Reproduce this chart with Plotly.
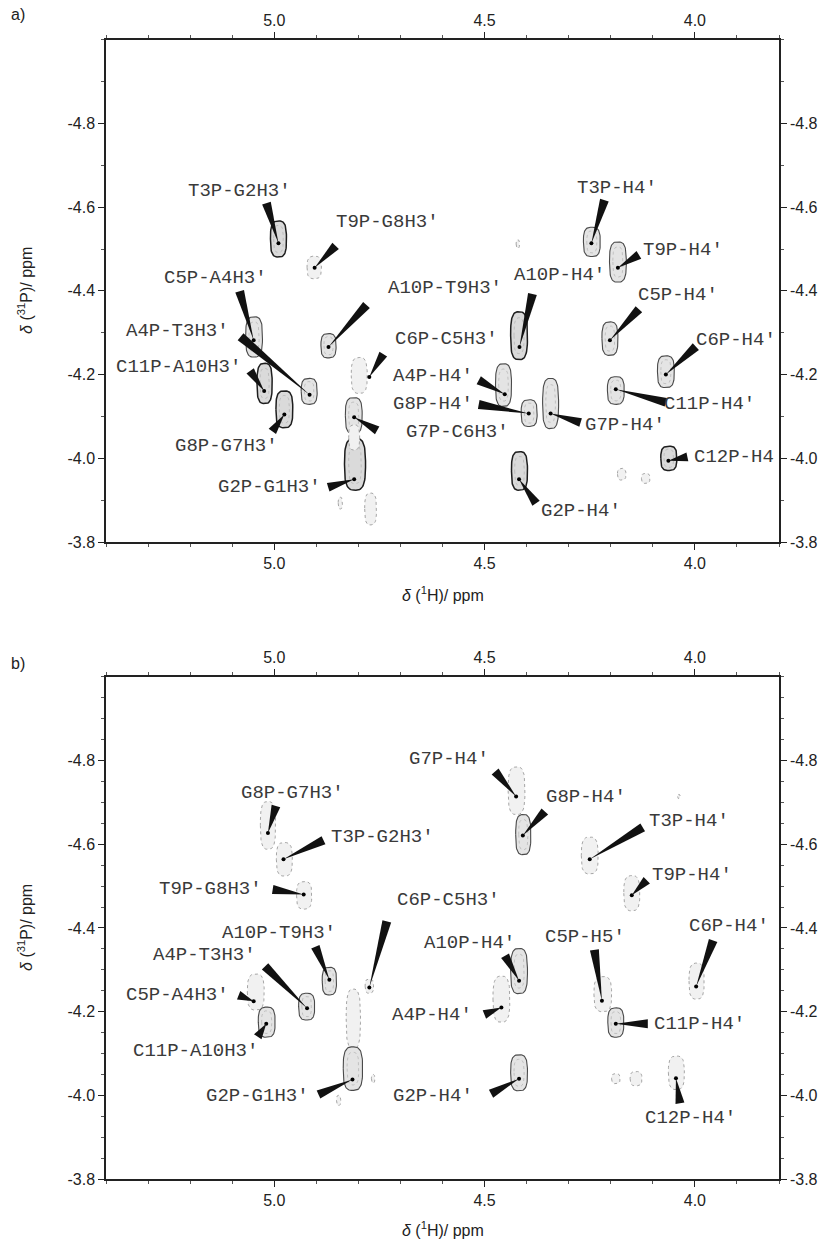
import math
import numpy as np
import plotly.graph_objects as go

# ---------------- data: panel a ----------------
A_LABELS = ["T3P-G2H3′", "T9P-G8H3′", "T3P-H4′", "T9P-H4′", "C5P-A4H3′", "A4P-T3H3′",
            "C11P-A10H3′", "G8P-G7H3′", "A10P-T9H3′", "C6P-C5H3′", "G7P-C6H3′", "G2P-G1H3′",
            "A10P-H4′", "C5P-H4′", "A4P-H4′", "G8P-H4′", "G7P-H4′", "C6P-H4′", "C11P-H4′",
            "C12P-H4", "G2P-H4′"]
A_H = [4.990, 4.904, 4.246, 4.183, 5.049, 4.916, 5.024, 4.976, 4.871, 4.774, 4.810, 4.810,
       4.417, 4.202, 4.452, 4.395, 4.343, 4.069, 4.188, 4.063, 4.418]
A_P = [-4.514, -4.455, -4.514, -4.455, -4.282, -4.152, -4.161, -4.105, -4.266, -4.194, -4.098, -3.950,
       -4.266, -4.282, -4.153, -4.107, -4.107, -4.200, -4.165, -3.994, -3.950]

# cross-peak contour envelopes (centre, half-extent in ppm)
A_BLOB_H = [4.990, 4.905, 4.245, 4.183, 5.048, 4.871, 5.023, 4.917, 4.976, 4.798, 4.811, 4.808, 4.771,
            4.843, 4.418, 4.202, 4.455, 4.394, 4.343, 4.188, 4.069, 4.062, 4.417, 4.174, 4.117, 4.421,
            4.810]
A_BLOB_P = [-4.524, -4.456, -4.517, -4.469, -4.290, -4.269, -4.179, -4.160, -4.117, -4.198, -4.102, -3.986,
            -3.879, -3.893, -4.293, -4.286, -4.175, -4.108, -4.131, -4.162, -4.207, -4.000, -3.970,
            -3.962, -3.952, -4.512, -4.050]
A_BLOB_DH = [0.019, 0.017, 0.020, 0.020, 0.020, 0.018, 0.018, 0.019, 0.020, 0.019, 0.020, 0.025, 0.014,
             0.005, 0.020, 0.019, 0.019, 0.019, 0.019, 0.020, 0.020, 0.019, 0.019, 0.010, 0.010, 0.004,
             0.013]
A_BLOB_DP = [0.043, 0.027, 0.035, 0.048, 0.048, 0.029, 0.048, 0.031, 0.044, 0.043, 0.043, 0.062, 0.038,
             0.014, 0.057, 0.040, 0.051, 0.032, 0.060, 0.033, 0.038, 0.029, 0.046, 0.014, 0.012, 0.010,
             0.030]
A_BLOB_TONE = ["dark", "faint", "normal", "normal", "normal", "normal", "dark", "normal", "dark", "faint",
               "normal", "dark", "faint", "faint", "dark", "normal", "normal", "normal", "normal", "normal",
               "normal", "dark", "dark", "faint", "faint", "faint", "faint"]

# ---------------- data: panel b ----------------
B_LABELS = ["G8P-G7H3′", "T3P-G2H3′", "T9P-G8H3′", "G7P-H4′", "G8P-H4′", "T3P-H4′", "T9P-H4′",
            "C6P-C5H3′", "A10P-T9H3′", "A4P-T3H3′", "C5P-A4H3′", "C11P-A10H3′", "G2P-G1H3′",
            "A10P-H4′", "C5P-H5′", "C6P-H4′", "A4P-H4′", "C11P-H4′", "G2P-H4′", "C12P-H4′"]
B_H = [5.015, 4.978, 4.930, 4.425, 4.409, 4.250, 4.150, 4.774, 4.869, 4.922, 5.049, 5.019, 4.814,
       4.418, 4.221, 3.997, 4.460, 4.188, 4.418, 4.045]
B_P = [-4.627, -4.564, -4.480, -4.714, -4.621, -4.564, -4.478, -4.258, -4.276, -4.208, -4.225, -4.171,
       -4.038, -4.274, -4.226, -4.260, -4.210, -4.171, -4.040, -4.041]

B_BLOB_H = [5.015, 4.976, 4.929, 4.424, 4.408, 4.250, 4.150, 4.869, 4.774, 4.923, 5.044, 5.018, 4.812,
            4.813, 4.418, 4.460, 4.219, 4.188, 3.996, 4.418, 4.044, 4.188, 4.140, 4.765, 4.847, 4.038]
B_BLOB_P = [-4.645, -4.564, -4.478, -4.728, -4.623, -4.573, -4.483, -4.273, -4.261, -4.212, -4.247, -4.175,
            -4.183, -4.064, -4.297, -4.230, -4.242, -4.174, -4.273, -4.054, -4.054, -4.040, -4.040,
            -4.040, -3.988, -4.714]
B_BLOB_DH = [0.018, 0.019, 0.018, 0.020, 0.018, 0.020, 0.019, 0.017, 0.010, 0.019, 0.020, 0.020, 0.017,
             0.023, 0.020, 0.020, 0.021, 0.019, 0.018, 0.020, 0.019, 0.010, 0.014, 0.004, 0.005, 0.003]
B_BLOB_DP = [0.057, 0.040, 0.033, 0.057, 0.048, 0.044, 0.042, 0.033, 0.017, 0.032, 0.043, 0.036, 0.071,
             0.052, 0.054, 0.055, 0.042, 0.035, 0.043, 0.043, 0.040, 0.012, 0.017, 0.010, 0.012, 0.005]
B_BLOB_TONE = ["faint", "faint", "faint", "faint", "normal", "faint", "faint", "normal", "faint", "normal",
               "faint", "normal", "faint", "normal", "normal", "faint", "faint", "normal", "faint", "normal",
               "faint", "faint", "faint", "faint", "faint", "faint"]

X_TICKS = [5.0, 4.5, 4.0]
X_TICKTEXT = ["5.0", "4.5", "4.0"]
Y_TICKS = [-4.8, -4.6, -4.4, -4.2, -4.0, -3.8]
Y_TICKTEXT = ["-4.8", "-4.6", "-4.4", "-4.2", "-4.0", "-3.8"]
X_RANGE = [5.4, 3.8]
Y_RANGE = [-3.8, -5.0]

# ---------------- layout (label placement, pixels relative to peak) ----------------
A_TEXT_OFF = [(-39, -52), (73, -46), (26, -55), (65, -18), (-38, -62), (-132, -64), (-86, -24), (-58, 32),
              (116, -59), (77, -38), (103, 15), (-85, 8), (40, -72), (68, -45), (-72, -18), (-96, -10),
              (74, 11), (70, -35), (94, 15), (66, -4), (62, 32)]
A_WEDGE_OFF = [(-12, -40), (21, -22), (13, -43), (21, -13), (-14, -49), (-69, -58), (-14, -20), (-12, 17),
               (38, -42), (14, -23), (23, 13), (-26, 8), (13, -53), (29, -31), (-26, -14), (-50, -9),
               (30, 9), (30, -28), (50, 13), (19, -4), (17, 24)]
B_TEXT_OFF = [(25, -40), (99, -22), (-93, -5), (-67, -38), (63, -38), (99, -38), (60, -20), (79, -87),
              (-50, -47), (-103, -53), (-76, -6), (-71, 27), (-95, 17), (-50, -38), (-17, -64), (33, -61),
              (-69, 8), (84, 0), (-86, 17), (15, 40)]
B_WEDGE_OFF = [(8, -27), (40, -19), (-31, -5), (-21, -25), (22, -24), (53, -32), (15, -15), (17.5, -66),
               (-14, -33), (-42, -42), (-15, -6), (-8.5, 13), (-34, 15), (-14, -25), (-7.5, -51), (17, -46),
               (-17, 7), (32, 0), (-28, 15), (4, 25)]

W, H = 826, 1247
XDOM = [106 / W, 779 / W]
A_YDOM = [1 - 546 / H, 1 - 40 / H]
B_YDOM = [1 - 1187.7 / H, 1 - 681.7 / H]

TONES = {
    "dark": dict(line="#1e1e1e", lw=1.5, dash="solid", fill="#dadada"),
    "normal": dict(line="#4a4a4a", lw=1.1, dash="solid", fill="#e4e4e4"),
    "faint": dict(line="#9c9c9c", lw=0.9, dash="dot", fill="#f1f1f1"),
}

LABEL_FONT = dict(family="Liberation Mono, Courier New, monospace", size=19, color="#3a3a3a")
TICK_FONT = dict(family="Liberation Sans, Arial, sans-serif", size=16, color="#222")

fig = go.Figure()
theta = np.linspace(0, 2 * np.pi, 72)
cs, sn = np.cos(theta), np.sin(theta)
# rounded-rectangle (superellipse) outline
ux_sq = np.sign(cs) * np.abs(cs) ** 0.65
uy_sq = np.sign(sn) * np.abs(sn) ** 0.65


def add_panel(xa, xa_top, ya, ya_right, ydom, labels, hs, ps, bh, bp, bdh, bdp, btone,
              text_off, wedge_off, minor_y):
    xr, yr = xa, ya
    # contour envelopes
    for h0, p0, dh, dp, tone in zip(bh, bp, bdh, bdp, btone):
        st = TONES[tone]
        fig.add_trace(go.Scatter(
            x=h0 + dh * ux_sq, y=p0 + dp * uy_sq,
            xaxis=xr, yaxis=yr, mode="lines", fill="toself", fillcolor=st["fill"],
            line=dict(color=st["line"], width=st["lw"], dash=st["dash"]),
            hoverinfo="skip", showlegend=False))
        if tone != "faint":
            fig.add_trace(go.Scatter(
                x=h0 + 0.6 * dh * ux_sq, y=p0 + 0.75 * dp * uy_sq,
                xaxis=xr, yaxis=yr, mode="lines",
                line=dict(color="#b0b0b0", width=0.7, dash="dot"),
                hoverinfo="skip", showlegend=False))
    # peak dots
    fig.add_trace(go.Scatter(x=hs, y=ps, xaxis=xr, yaxis=yr, mode="markers",
                             marker=dict(color="black", size=4), text=labels,
                             hoverinfo="text", showlegend=False))
    # dummy trace for top/right axes
    fig.add_trace(go.Scatter(x=[None], y=[None], xaxis=xa_top, yaxis=ya_right,
                             showlegend=False, hoverinfo="skip"))
    # wedges and labels
    for lab, h0, p0, (tx, ty), (bx, by) in zip(labels, hs, ps, text_off, wedge_off):
        L = math.hypot(bx, by)
        ux, uy = bx / L, by / L
        nx, ny = -uy, ux
        w = 4.5
        x1, y1 = bx + w * nx, by + w * ny
        x2, y2 = bx - w * nx, by - w * ny
        fig.add_shape(type="path", xref=xr, yref=yr, xsizemode="pixel", ysizemode="pixel",
                      xanchor=h0, yanchor=p0,
                      path=f"M 0 0 L {x1:.2f} {-y1:.2f} L {x2:.2f} {-y2:.2f} Z",
                      fillcolor="#111", line=dict(width=0), layer="above")
        fig.add_annotation(x=h0, y=p0, xref=xr, yref=yr, text=lab, showarrow=False,
                           xshift=tx, yshift=-ty, xanchor="center", yanchor="middle",
                           font=LABEL_FONT)

    common_x = dict(range=X_RANGE, tickvals=X_TICKS, ticktext=X_TICKTEXT, ticks="outside",
                    ticklen=6, tickwidth=1.2, tickcolor="#222", showline=True, linecolor="#222",
                    linewidth=1.5, showgrid=False, zeroline=False, tickfont=TICK_FONT,
                    minor=dict(tickmode="linear", tick0=4.0, dtick=0.1, ticks="outside",
                               ticklen=3, tickwidth=0.8, tickcolor="#555"))
    common_y = dict(range=Y_RANGE, tickvals=Y_TICKS, ticktext=Y_TICKTEXT, ticks="outside",
                    ticklen=6, tickwidth=1.2, tickcolor="#222", showline=True, linecolor="#222",
                    linewidth=1.5, showgrid=False, zeroline=False, tickfont=TICK_FONT,
                    minor=dict(tickmode="linear", tick0=-4.0, dtick=minor_y, ticks="outside",
                               ticklen=3, tickwidth=0.8, tickcolor="#555"))
    xname = "xaxis" if xa == "x" else "xaxis" + xa[1:]
    xtname = "xaxis" + xa_top[1:]
    yname = "yaxis" if ya == "y" else "yaxis" + ya[1:]
    ytname = "yaxis" + ya_right[1:]
    fig.update_layout(**{
        xname: dict(domain=XDOM, anchor=ya, side="bottom", **common_x),
        xtname: dict(domain=XDOM, anchor=ya, side="top", overlaying=xa, **common_x),
        yname: dict(domain=ydom, anchor=xa, side="left", **common_y),
        ytname: dict(domain=ydom, anchor=xa, side="right", overlaying=ya, **common_y),
    })


add_panel("x", "x2", "y", "y2", A_YDOM, A_LABELS, A_H, A_P, A_BLOB_H, A_BLOB_P, A_BLOB_DH,
          A_BLOB_DP, A_BLOB_TONE, A_TEXT_OFF, A_WEDGE_OFF, 0.1)
add_panel("x3", "x4", "y3", "y4", B_YDOM, B_LABELS, B_H, B_P, B_BLOB_H, B_BLOB_P, B_BLOB_DH,
          B_BLOB_DP, B_BLOB_TONE, B_TEXT_OFF, B_WEDGE_OFF, 0.05)

TITLE_FONT = dict(family="Liberation Sans, Arial, sans-serif", size=16, color="#222")
xmid = (XDOM[0] + XDOM[1]) / 2
for yp in (1 - 598 / H, 1 - 1238 / H):
    fig.add_annotation(x=xmid, y=yp, xref="paper", yref="paper", showarrow=False,
                       text="<i>δ</i> (<sup>1</sup>H)/ ppm", font=TITLE_FONT,
                       xanchor="center", yanchor="middle")
for yp in (1 - 293 / H, 1 - 934.7 / H):
    fig.add_annotation(x=25 / W, y=yp, xref="paper", yref="paper", showarrow=False,
                       text="<i>δ</i> (<sup>31</sup>P)/ ppm", font=TITLE_FONT, textangle=-90,
                       xanchor="center", yanchor="middle")
for txt, yp in (("a)", 1 - 15 / H), ("b)", 1 - 668 / H)):
    fig.add_annotation(x=18 / W, y=yp, xref="paper", yref="paper", showarrow=False,
                       text=txt, font=TITLE_FONT, xanchor="center", yanchor="middle")

fig.update_layout(width=W, height=H, margin=dict(l=0, r=0, t=0, b=0),
                  paper_bgcolor="white", plot_bgcolor="white", showlegend=False)

fig.write_html("out.html")
